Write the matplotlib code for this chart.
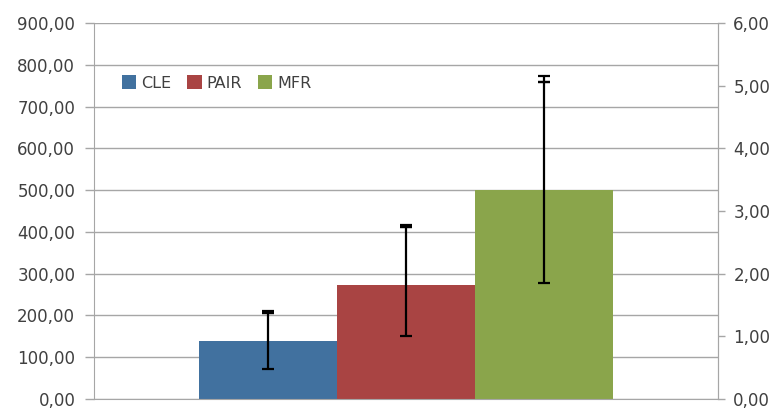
import matplotlib
matplotlib.use("Agg")
import matplotlib.pyplot as plt
from matplotlib.ticker import FuncFormatter, MultipleLocator

# data
series = ["CLE", "PAIR", "MFR"]
values = [140, 274, 500]
err_low = [72, 150, 278]
err_high = [210, 417, 772]
err_high2 = [206, 412, 758]   # second, slightly lower cap seen on each bar
colors = ["#41719f", "#a94443", "#8aa54b"]

left_ticks = [0, 100, 200, 300, 400, 500, 600, 700, 800, 900]
right_ticks = [0, 1, 2, 3, 4, 5, 6]

def comma(v, pos):
    return ("%.2f" % v).replace(".", ",")

plt.rcParams["font.family"] = "DejaVu Sans"
fig = plt.figure(figsize=(7.78, 4.08), dpi=100)
ax = fig.add_axes([94 / 778, 1 - 399 / 408, 624 / 778, 376 / 408])

grid_c = "#a6a6a6"
text_c = "#404040"

for i, (name, v) in enumerate(zip(series, values)):
    x = i - 1
    ax.bar(x, v, width=1.0, color=colors[i], label=name, zorder=2)
    ax.errorbar(x, v, yerr=[[v - err_low[i]], [err_high[i] - v]], fmt="none",
                ecolor="black", elinewidth=1.6, capsize=4, capthick=1.6, zorder=3)
    # extra cap just below the top one
    ax.errorbar(x, err_high2[i], yerr=[[0], [0]], fmt="none",
                ecolor="black", elinewidth=1.6, capsize=4, capthick=1.6, zorder=3)

ax.set_xlim(-2.26, 2.26)
ax.set_ylim(0, 900)
ax.set_yticks(left_ticks)
ax.yaxis.set_major_formatter(FuncFormatter(comma))
ax.set_xticks([])
ax.grid(axis="y", color=grid_c, linewidth=1, zorder=0)
ax.set_axisbelow(True)
ax.spines["top"].set_visible(False)
for s in ["left", "right", "bottom"]:
    ax.spines[s].set_color(grid_c)
ax.tick_params(axis="y", colors=grid_c, labelcolor=text_c, labelsize=12,
               length=6.5, width=1, pad=7)

ax2 = ax.twinx()
ax2.set_ylim(0, 6)
ax2.set_yticks(right_ticks)
ax2.yaxis.set_major_formatter(FuncFormatter(comma))
ax2.yaxis.set_minor_locator(MultipleLocator(0.5))
for s in ["top", "left", "bottom"]:
    ax2.spines[s].set_visible(False)
ax2.spines["right"].set_color(grid_c)
ax2.tick_params(axis="y", which="major", colors=grid_c, labelcolor=text_c,
                labelsize=12, length=5, width=1, pad=6)
ax2.tick_params(axis="y", which="minor", colors=grid_c, length=0)

leg = ax.legend(loc="center left", bbox_to_anchor=(0.022, 1 - (83 - 23) / 376),
                ncol=3, frameon=False, fontsize=11.5, handlelength=0.9,
                handleheight=0.9, handletextpad=0.3, columnspacing=1.0,
                labelcolor=text_c)

fig.savefig("out.png", dpi=100)
